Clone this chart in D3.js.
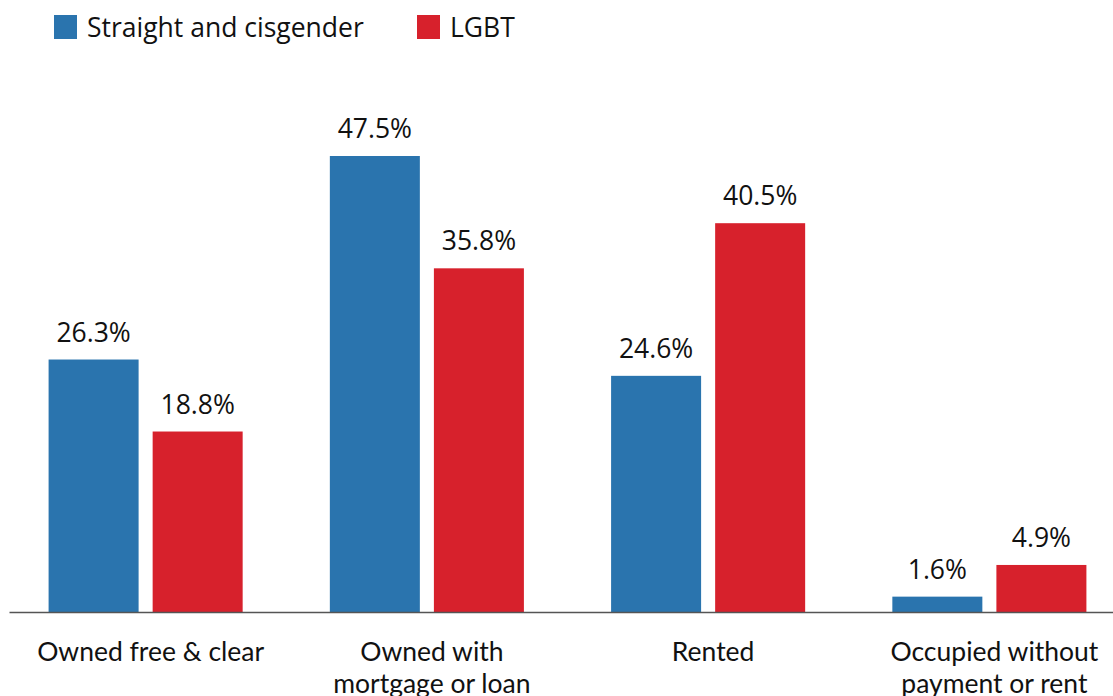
<!DOCTYPE html>
<html><head><meta charset="utf-8">
<script src="https://cdn.jsdelivr.net/npm/d3@7"></script>
<style>body{margin:0;background:#fff}svg{display:block}</style>
</head><body>
<script>
const categories = [["Owned free & clear"], ["Owned with", "mortgage or loan"], ["Rented"], ["Occupied without", "payment or rent"]];
const seriesNames = ["Straight and cisgender", "LGBT"];
const straightValues = [26.3, 47.5, 24.6, 1.6];
const lgbtValues = [18.8, 35.8, 40.5, 4.9];
const colors = ["#2a74ae", "#d7212c"];

const W = 1113, H = 696;
const svg = d3.select("body").append("svg").attr("width", W).attr("height", H);

const x0 = d3.scaleBand().domain(d3.range(categories.length)).range([5, 1130]).paddingInner(0.31).paddingOuter(0.155);
const x1 = d3.scaleBand().domain([0, 1]).range([0, x0.bandwidth()]).paddingInner(0.135);
const y = d3.scaleLinear().domain([0, 50]).range([612, 132]);

const data = categories.map((c, i) => ({i, vals: [straightValues[i], lgbtValues[i]]}));

const g = svg.selectAll("g.grp").data(data).join("g").attr("class", "grp")
  .attr("transform", d => `translate(${x0(d.i)},0)`);

g.selectAll("rect").data(d => d.vals.map((v, s) => ({v, s}))).join("rect")
  .attr("x", d => x1(d.s)).attr("width", x1.bandwidth())
  .attr("y", d => y(d.v)).attr("height", d => y(0) - y(d.v))
  .attr("fill", d => colors[d.s]);

g.selectAll("text.val").data(d => d.vals.map((v, s) => ({v, s}))).join("text")
  .attr("class", "val")
  .attr("x", d => x1(d.s) + x1.bandwidth() / 2)
  .attr("y", d => y(d.v) - 18)
  .attr("text-anchor", "middle")
  .attr("font-family", "'Open Sans'").attr("font-size", 26.5).attr("fill", "#111")
  .text(d => d.v.toFixed(1) + "%");

// baseline
const axis = svg.append("g").attr("transform", `translate(0,${y(0)})`)
  .call(d3.axisBottom(d3.scaleLinear().range([9, 1113])).ticks(0).tickSize(0).tickFormat(""));
axis.select(".domain").attr("stroke", "#555").attr("stroke-width", 1.5);

// category labels
const lab = svg.selectAll("text.cat").data(categories).join("text").attr("class", "cat")
  .attr("x", (d, i) => x0(i) + x0.bandwidth() / 2 + 5)
  .attr("y", 661)
  .attr("text-anchor", "middle")
  .attr("font-family", "Lato").attr("font-size", 26.5).attr("fill", "#111");
lab.selectAll("tspan").data(d => d).join("tspan")
  .attr("x", function() { return this.parentNode.getAttribute("x"); })
  .attr("dy", (d, i) => i === 0 ? 0 : 32)
  .text(d => d);

// legend
const legX = [54, 417];
const leg = svg.selectAll("g.leg").data(seriesNames).join("g").attr("class", "leg")
  .attr("transform", (d, i) => `translate(${legX[i]},15)`);
leg.append("rect").attr("width", 23).attr("height", 24).attr("fill", (d, i) => colors[i]);
leg.append("text").attr("x", 33).attr("y", 22)
  .attr("font-family", "'Open Sans'").attr("font-size", 26.5).attr("fill", "#111")
  .text(d => d);
</script>
</body></html>
